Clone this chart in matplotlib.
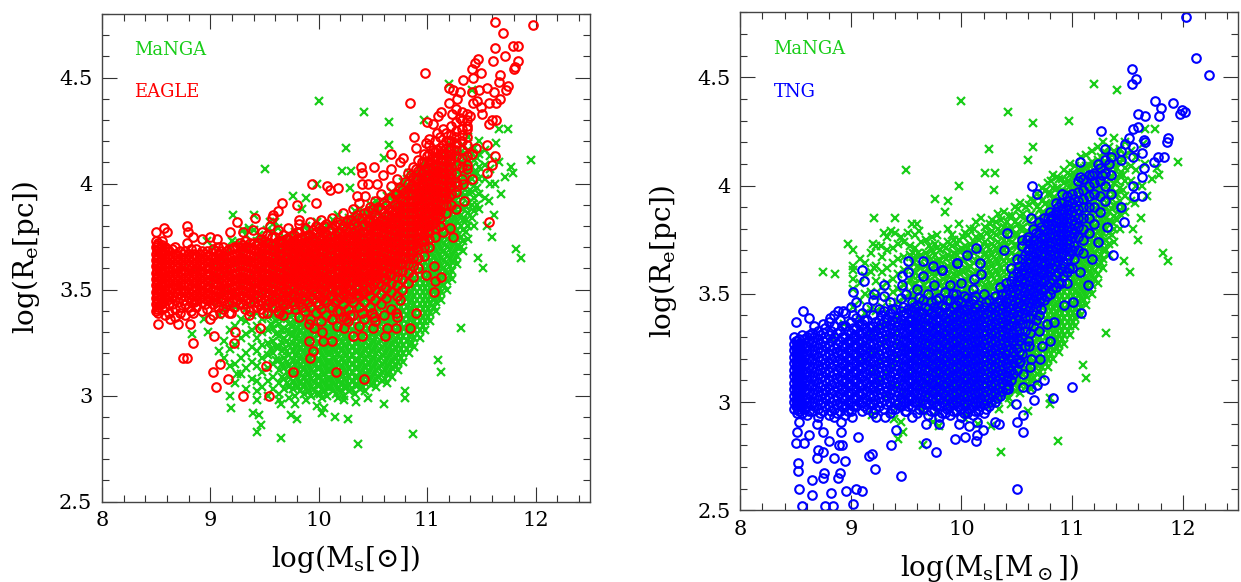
import matplotlib
matplotlib.use('Agg')
import matplotlib.pyplot as plt
from matplotlib.ticker import MultipleLocator

plt.rcParams['font.family'] = ['DejaVu Serif']
plt.rcParams['mathtext.fontset'] = 'dejavuserif'

# MaNGA, isolated points
manga_x = [10.0,10.42,10.65,10.25,10.65,10.21,10.3,10.6,10.29,11.96,11.82,11.87,11.2,11.41,10.97,11.66,11.75,11.64,11.77,11.79,
           9.5,9.76,9.88,9.85,9.21,9.4,9.98,8.75,8.86,8.97,9.02,9.02,9.2,9.27,9.21,9.3,9.36,9.4,9.45,9.55,9.6,9.52,9.62,
           10.36,10.87,9.65,9.43,9.47,9.39,9.45,9.19,9.74,9.8,10.15,10.27,10.03,10.6,10.8,10.8,11.1,11.13,11.31,10.45,9.18,9.25,
           8.83,8.94,8.98,9.43,9.63,9.65,9.78,9.98,10.05,10.23,10.34,
           11.62,11.68,11.66,11.6,11.52,11.47,11.57,11.63,11.72,11.55]
manga_y = [4.39,4.34,4.29,4.17,4.18,4.06,4.06,4.12,3.98,4.11,3.69,3.65,4.47,4.44,4.3,4.26,4.26,4.19,4.08,4.05,
           4.07,3.94,3.93,3.88,3.85,3.85,4.0,3.6,3.59,3.73,3.7,3.63,3.73,3.72,3.62,3.78,3.79,3.78,3.76,3.82,3.82,3.78,3.79,
           2.77,2.82,2.8,2.83,2.86,2.92,2.91,2.94,2.91,2.89,2.9,2.89,2.92,2.96,3.02,2.99,3.17,3.11,3.32,2.99,3.0,3.1,
           3.29,3.36,3.3,2.98,2.98,2.96,2.96,2.95,2.94,2.98,2.97,
           3.85,3.95,4.1,3.75,3.6,3.65,3.92,4.0,4.03,3.8]

# MaNGA, dense cloud estimated column by column
manga_col_x = [9.02,9.08,9.13,9.18,9.23,9.28,9.33,9.38,9.43,9.48,9.53,9.58,9.63,9.68,9.73,9.78,9.83,9.88,9.93,9.98,
               10.03,10.08,10.13,10.18,10.23,10.28,10.33,10.38,10.43,10.48,10.53,10.58,10.63,10.68,10.73,10.78,10.83,10.88,10.93,10.98,
               11.03,11.08,11.13,11.18,11.23,11.28,11.33,11.38,11.43,11.48,11.53,11.58]
manga_col_y = [
    [3.44,3.52,3.57,3.61],
    [3.21,3.38,3.47,3.55,3.66],
    [3.18,3.26,3.41,3.5,3.58,3.64],
    [3.14,3.22,3.31,3.43,3.51,3.6,3.69],
    [3.06,3.15,3.24,3.33,3.42,3.49,3.56,3.63,3.72],
    [3.1,3.18,3.27,3.36,3.44,3.53,3.6,3.67],
    [3.03,3.13,3.2,3.29,3.35,3.41,3.48,3.55,3.62,3.7,3.76],
    [3.08,3.16,3.23,3.31,3.38,3.44,3.51,3.57,3.64,3.71],
    [3.02,3.07,3.14,3.21,3.27,3.33,3.39,3.46,3.52,3.59,3.66,3.73],
    [3.04,3.11,3.18,3.24,3.3,3.36,3.42,3.48,3.54,3.61,3.67,3.74],
    [3.0,3.07,3.13,3.19,3.25,3.31,3.37,3.43,3.5,3.56,3.62,3.68,3.72],
    [3.03,3.09,3.15,3.2,3.26,3.32,3.38,3.44,3.49,3.55,3.6,3.66,3.71,3.77],
    [3.01,3.06,3.12,3.17,3.23,3.28,3.34,3.39,3.45,3.51,3.57,3.62,3.68,3.74],
    [3.03,3.08,3.13,3.18,3.22,3.27,3.32,3.37,3.42,3.47,3.52,3.58,3.63,3.69,3.75],
    [2.99,3.04,3.09,3.14,3.19,3.24,3.29,3.34,3.39,3.44,3.49,3.54,3.59,3.64,3.7,3.76],
    [3.0,3.05,3.1,3.15,3.19,3.23,3.27,3.31,3.35,3.4,3.45,3.5,3.55,3.6,3.65,3.71,3.77],
    [3.02,3.06,3.1,3.14,3.18,3.22,3.26,3.3,3.34,3.38,3.42,3.47,3.52,3.57,3.62,3.67,3.72],
    [2.98,3.03,3.07,3.11,3.15,3.19,3.23,3.27,3.31,3.35,3.39,3.43,3.48,3.53,3.58,3.63,3.68,3.74,3.8],
    [3.0,3.04,3.08,3.12,3.16,3.2,3.24,3.28,3.32,3.36,3.4,3.44,3.49,3.54,3.59,3.64,3.69,3.75],
    [3.01,3.05,3.09,3.13,3.17,3.21,3.25,3.29,3.33,3.37,3.41,3.45,3.5,3.55,3.6,3.65,3.7,3.75,3.82],
    [2.99,3.03,3.07,3.11,3.15,3.19,3.23,3.27,3.31,3.35,3.39,3.43,3.47,3.52,3.57,3.62,3.67,3.72,3.78],
    [3.0,3.04,3.08,3.12,3.16,3.2,3.24,3.28,3.32,3.36,3.4,3.44,3.48,3.53,3.58,3.63,3.68,3.73,3.8],
    [3.02,3.06,3.1,3.14,3.18,3.22,3.26,3.3,3.34,3.38,3.42,3.46,3.5,3.55,3.6,3.65,3.7,3.76,3.83],
    [2.99,3.03,3.07,3.11,3.15,3.19,3.23,3.27,3.31,3.35,3.39,3.43,3.47,3.51,3.56,3.61,3.66,3.71,3.77,3.85],
    [3.0,3.04,3.08,3.12,3.16,3.2,3.24,3.28,3.32,3.36,3.4,3.44,3.48,3.52,3.57,3.62,3.67,3.72,3.78],
    [3.02,3.05,3.09,3.13,3.17,3.21,3.25,3.29,3.33,3.37,3.41,3.45,3.49,3.53,3.58,3.63,3.68,3.73,3.79,3.84],
    [3.01,3.05,3.09,3.13,3.17,3.21,3.25,3.29,3.33,3.37,3.41,3.45,3.49,3.54,3.59,3.64,3.69,3.74,3.8,3.87],
    [3.03,3.07,3.11,3.15,3.19,3.23,3.27,3.31,3.35,3.39,3.43,3.47,3.51,3.55,3.6,3.65,3.7,3.75,3.81,3.88],
    [3.02,3.06,3.1,3.14,3.18,3.22,3.26,3.3,3.34,3.38,3.42,3.46,3.5,3.55,3.6,3.65,3.7,3.75,3.8,3.86],
    [3.05,3.09,3.13,3.17,3.21,3.25,3.29,3.33,3.37,3.41,3.45,3.49,3.53,3.57,3.62,3.67,3.72,3.77,3.83,3.9],
    [3.04,3.08,3.12,3.16,3.2,3.24,3.28,3.32,3.36,3.4,3.44,3.48,3.52,3.56,3.6,3.65,3.7,3.75,3.8,3.86,3.92],
    [3.07,3.11,3.15,3.19,3.23,3.27,3.31,3.35,3.39,3.43,3.47,3.51,3.55,3.59,3.63,3.68,3.73,3.78,3.84,3.9],
    [3.06,3.1,3.14,3.18,3.22,3.26,3.3,3.34,3.38,3.42,3.46,3.5,3.54,3.58,3.62,3.66,3.71,3.76,3.81,3.87,3.94],
    [3.09,3.13,3.17,3.21,3.25,3.29,3.33,3.37,3.41,3.45,3.49,3.53,3.57,3.61,3.65,3.69,3.74,3.79,3.84,3.9,3.96],
    [3.12,3.16,3.2,3.24,3.28,3.32,3.36,3.4,3.44,3.48,3.52,3.56,3.6,3.64,3.68,3.72,3.77,3.82,3.87,3.93,3.99],
    [3.16,3.2,3.24,3.28,3.32,3.36,3.4,3.44,3.48,3.52,3.56,3.6,3.64,3.68,3.72,3.76,3.8,3.85,3.9,3.96,4.01],
    [3.2,3.24,3.28,3.32,3.36,3.4,3.44,3.48,3.52,3.56,3.6,3.64,3.68,3.72,3.76,3.8,3.84,3.89,3.94,3.99,4.05],
    [3.23,3.27,3.31,3.35,3.39,3.43,3.47,3.51,3.55,3.59,3.63,3.67,3.71,3.75,3.79,3.83,3.87,3.92,3.97,4.03],
    [3.27,3.31,3.35,3.39,3.43,3.47,3.51,3.55,3.59,3.63,3.67,3.71,3.75,3.79,3.83,3.87,3.91,3.96,4.01,4.07],
    [3.31,3.35,3.39,3.43,3.47,3.51,3.55,3.59,3.63,3.67,3.71,3.75,3.79,3.83,3.87,3.91,3.95,4.0,4.05,4.1],
    [3.35,3.39,3.43,3.47,3.51,3.55,3.59,3.63,3.67,3.71,3.75,3.79,3.83,3.87,3.91,3.95,3.99,4.04,4.09],
    [3.4,3.44,3.48,3.52,3.56,3.6,3.64,3.68,3.72,3.76,3.8,3.84,3.88,3.92,3.96,4.0,4.04,4.08,4.13],
    [3.45,3.49,3.53,3.57,3.61,3.65,3.69,3.73,3.77,3.81,3.85,3.89,3.93,3.97,4.01,4.05,4.09,4.14],
    [3.5,3.54,3.58,3.62,3.66,3.7,3.74,3.78,3.82,3.86,3.9,3.94,3.98,4.02,4.06,4.11,4.16],
    [3.55,3.59,3.63,3.67,3.71,3.75,3.79,3.83,3.87,3.91,3.95,3.99,4.03,4.07,4.12,4.18],
    [3.62,3.66,3.7,3.74,3.78,3.82,3.86,3.9,3.94,3.98,4.02,4.06,4.1,4.15,4.2],
    [3.68,3.73,3.78,3.83,3.88,3.93,3.98,4.03,4.08,4.13,4.18],
    [3.74,3.8,3.86,3.91,3.96,4.01,4.06,4.11,4.16,4.22],
    [3.8,3.87,3.93,3.99,4.05,4.11,4.17],
    [3.88,3.95,4.02,4.08,4.14,4.2],
    [3.93,4.02,4.09,4.16],
    [4.0,4.07,4.13],
]

# MaNGA, second pass over the dense cloud (points between the first columns)
manga_fill_x = [9.56,9.61,9.66,9.71,9.76,9.81,9.86,9.91,9.96,10.01,10.06,10.11,10.16,10.21,10.26,10.31,10.36,10.41,10.46,10.51,
                10.56,10.61,10.66,10.71,10.76,10.81,10.86,10.91,10.96,11.01,11.06,11.11,11.16,11.21,11.26,11.31,11.36,11.41,11.46]
manga_fill_y = [
    [3.22,3.34,3.41,3.47,3.53,3.58,3.64,3.69],
    [3.17,3.23,3.29,3.35,3.41,3.46,3.52,3.58,3.63,3.69],
    [3.09,3.15,3.21,3.25,3.31,3.37,3.42,3.48,3.54,3.6,3.66],
    [3.06,3.11,3.16,3.21,3.26,3.31,3.36,3.41,3.46,3.51,3.56,3.61,3.67,3.72],
    [3.03,3.07,3.12,3.17,3.21,3.25,3.29,3.33,3.38,3.43,3.48,3.53,3.58,3.63,3.68,3.73],
    [3.04,3.08,3.12,3.16,3.2,3.24,3.28,3.32,3.36,3.41,3.45,3.5,3.55,3.6,3.65,3.7],
    [3.01,3.05,3.09,3.13,3.17,3.21,3.25,3.29,3.33,3.37,3.41,3.46,3.51,3.56,3.61,3.66,3.71],
    [3.02,3.06,3.1,3.14,3.18,3.22,3.26,3.3,3.34,3.38,3.42,3.47,3.52,3.57,3.62,3.67,3.72,3.77],
    [3.03,3.07,3.11,3.15,3.19,3.23,3.27,3.31,3.35,3.39,3.43,3.48,3.53,3.58,3.63,3.68,3.73],
    [3.01,3.05,3.09,3.13,3.17,3.21,3.25,3.29,3.33,3.37,3.41,3.45,3.5,3.55,3.6,3.65,3.7,3.76],
    [3.02,3.06,3.1,3.14,3.18,3.22,3.26,3.3,3.34,3.38,3.42,3.46,3.51,3.56,3.61,3.66,3.71,3.77],
    [3.04,3.08,3.12,3.16,3.2,3.24,3.28,3.32,3.36,3.4,3.44,3.49,3.54,3.59,3.64,3.69,3.74,3.8],
    [3.01,3.05,3.09,3.13,3.17,3.21,3.25,3.29,3.33,3.37,3.41,3.45,3.5,3.55,3.6,3.65,3.7,3.75],
    [3.02,3.06,3.1,3.14,3.18,3.22,3.26,3.3,3.34,3.38,3.42,3.46,3.5,3.54,3.59,3.64,3.69,3.74,3.81],
    [3.04,3.07,3.11,3.15,3.19,3.23,3.27,3.31,3.35,3.39,3.43,3.47,3.51,3.55,3.6,3.65,3.7,3.76,3.82],
    [3.03,3.07,3.11,3.15,3.19,3.23,3.27,3.31,3.35,3.39,3.43,3.47,3.51,3.56,3.61,3.66,3.71,3.77,3.83],
    [3.05,3.09,3.13,3.17,3.21,3.25,3.29,3.33,3.37,3.41,3.45,3.49,3.53,3.57,3.62,3.67,3.72,3.78,3.84],
    [3.04,3.08,3.12,3.16,3.2,3.24,3.28,3.32,3.36,3.4,3.44,3.48,3.52,3.57,3.62,3.67,3.72,3.77,3.83],
    [3.07,3.11,3.15,3.19,3.23,3.27,3.31,3.35,3.39,3.43,3.47,3.51,3.55,3.59,3.64,3.69,3.74,3.8,3.86],
    [3.06,3.1,3.14,3.18,3.22,3.26,3.3,3.34,3.38,3.42,3.46,3.5,3.54,3.58,3.62,3.67,3.72,3.77,3.82,3.89],
    [3.09,3.13,3.17,3.21,3.25,3.29,3.33,3.37,3.41,3.45,3.49,3.53,3.57,3.61,3.65,3.7,3.75,3.81,3.87],
    [3.08,3.12,3.16,3.2,3.24,3.28,3.32,3.36,3.4,3.44,3.48,3.52,3.56,3.6,3.64,3.68,3.73,3.78,3.83,3.91],
    [3.11,3.15,3.19,3.23,3.27,3.31,3.35,3.39,3.43,3.47,3.51,3.55,3.59,3.63,3.67,3.71,3.76,3.81,3.86,3.93],
    [3.14,3.18,3.22,3.26,3.3,3.34,3.38,3.42,3.46,3.5,3.54,3.58,3.62,3.66,3.7,3.74,3.79,3.84,3.89,3.95],
    [3.18,3.22,3.26,3.3,3.34,3.38,3.42,3.46,3.5,3.54,3.58,3.62,3.66,3.7,3.74,3.78,3.82,3.87,3.92,3.98],
    [3.22,3.26,3.3,3.34,3.38,3.42,3.46,3.5,3.54,3.58,3.62,3.66,3.7,3.74,3.78,3.82,3.86,3.91,3.96,4.02],
    [3.25,3.29,3.33,3.37,3.41,3.45,3.49,3.53,3.57,3.61,3.65,3.69,3.73,3.77,3.81,3.85,3.89,3.94,3.99,4.04],
    [3.29,3.33,3.37,3.41,3.45,3.49,3.53,3.57,3.61,3.65,3.69,3.73,3.77,3.81,3.85,3.89,3.93,3.98,4.03],
    [3.33,3.37,3.41,3.45,3.49,3.53,3.57,3.61,3.65,3.69,3.73,3.77,3.81,3.85,3.89,3.93,3.97,4.02,4.06],
    [3.37,3.41,3.45,3.49,3.53,3.57,3.61,3.65,3.69,3.73,3.77,3.81,3.85,3.89,3.93,3.97,4.01,4.06],
    [3.42,3.46,3.5,3.54,3.58,3.62,3.66,3.7,3.74,3.78,3.82,3.86,3.9,3.94,3.98,4.02,4.07],
    [3.47,3.51,3.55,3.59,3.63,3.67,3.71,3.75,3.79,3.83,3.87,3.91,3.95,3.99,4.03,4.08],
    [3.52,3.56,3.6,3.64,3.68,3.72,3.76,3.8,3.84,3.88,3.92,3.96,4.0,4.04,4.09],
    [3.57,3.61,3.65,3.69,3.73,3.77,3.81,3.85,3.89,3.93,3.97,4.01,4.05,4.1],
    [3.64,3.68,3.72,3.76,3.8,3.84,3.88,3.92,3.96,4.0,4.04,4.08,4.13],
    [3.7,3.75,3.8,3.85,3.9,3.95,4.0,4.05,4.1,4.15],
    [3.77,3.83,3.89,3.94,3.99,4.04,4.09,4.14],
    [3.84,3.9,3.96,4.02,4.08,4.14],
    [3.9,3.98,4.05,4.12],
]

# EAGLE, isolated circles
eagle_x = [11.98,11.63,11.7,11.63,11.79,11.84,11.47,11.44,11.41,11.61,11.72,11.84,11.81,11.8,11.5,11.42,11.33,10.98,11.67,11.66,
           11.75,11.73,11.2,11.24,11.3,11.48,11.55,11.62,11.67,11.64,10.84,11.2,11.28,11.41,11.42,11.57,11.46,11.5,11.13,11.1,
           11.27,11.23,11.3,11.4,11.51,11.64,11.6,11.57,11.0,11.05,10.88,10.99,11.02,11.09,11.15,11.37,10.67,10.9,10.78,10.75,
           10.39,10.51,10.67,10.4,10.4,10.59,9.94,10.08,10.1,10.18,10.45,10.54,10.43,10.35,9.97,11.55,11.63,11.6,11.55,11.45,
           11.41,11.37,11.41,11.33,11.28,11.34,11.27,11.57,11.21,11.15,11.24,11.06,10.99,11.13,11.07,
           9.66,9.8,9.62,9.58,9.41,9.25,9.82,8.78,8.79,8.5,8.57,8.6,9.18,9.39,9.48,9.3,9.0,8.92,9.06,8.84,8.78,8.55,9.44,9.57,9.55,
           8.52,8.81,8.7,8.63,8.84,9.0,9.09,9.19,9.36,9.23,9.03,9.22,8.84,8.75,8.78,9.09,9.02,9.16,9.05,9.3,9.54,9.51,9.46,9.76,
           9.92,9.95,9.91,10.16,10.42,10.04,10.12,10.32,10.4,10.61,9.91,9.96,10.03,10.23,10.5,10.63,10.71,10.84,10.9,10.75,11.06,
           10.4,10.49,10.6,10.71,10.72,10.29,10.2,9.78,9.49,9.63,10.12,10.25,10.51]
eagle_y = [4.75,4.76,4.71,4.64,4.65,4.65,4.59,4.57,4.54,4.58,4.6,4.58,4.55,4.54,4.52,4.5,4.49,4.52,4.51,4.48,
           4.46,4.44,4.45,4.44,4.43,4.44,4.45,4.43,4.4,4.38,4.38,4.38,4.4,4.43,4.38,4.38,4.39,4.36,4.34,4.32,
           4.35,4.33,4.31,4.32,4.33,4.3,4.3,4.28,4.29,4.28,4.22,4.19,4.21,4.24,4.26,4.27,4.14,4.17,4.12,4.1,
           4.08,4.08,4.07,4.05,4.0,4.04,4.0,3.99,3.97,3.98,4.0,4.0,3.94,3.94,3.91,4.18,4.13,4.09,4.05,4.17,
           4.14,4.09,4.02,4.0,3.99,3.92,3.88,3.82,3.79,3.77,3.75,3.61,3.57,3.56,3.54,
           3.91,3.9,3.87,3.85,3.84,3.82,3.83,3.8,3.77,3.77,3.79,3.77,3.77,3.78,3.77,3.77,3.75,3.74,3.74,3.75,3.72,3.73,3.72,3.84,3.8,
           3.34,3.34,3.34,3.36,3.39,3.36,3.39,3.39,3.38,3.3,3.28,3.25,3.25,3.18,3.18,3.15,3.11,3.08,3.04,3.0,3.0,3.14,3.32,3.11,
           3.18,3.21,3.26,3.11,3.08,3.26,3.26,3.28,3.28,3.28,3.34,3.32,3.3,3.32,3.32,3.32,3.32,3.32,3.39,3.45,3.49,
           3.39,3.39,3.38,3.39,3.37,3.38,3.4,3.41,3.39,3.39,3.36,3.36,3.37]

# EAGLE, dense part, estimated column by column
eagle_col_x = [8.5,8.52,8.55,8.58,8.62,8.67,8.72,8.77,8.82,8.87,8.92,8.97,9.02,9.07,9.12,9.17,9.22,9.27,9.32,9.37,
               9.42,9.47,9.52,9.57,9.62,9.67,9.72,9.77,9.82,9.87,9.92,9.97,10.02,10.07,10.12,10.17,10.22,10.27,10.32,10.37,
               10.42,10.47,10.52,10.57,10.62,10.67,10.72,10.77,10.82,10.87,10.92,10.97,11.02,11.07,11.12,11.17,11.22,11.27,11.32,11.37]
eagle_col_y = [
    [3.4,3.43,3.46,3.49,3.52,3.55,3.58,3.61,3.64,3.67,3.7,3.73],
    [3.39,3.42,3.45,3.48,3.51,3.54,3.57,3.6,3.63,3.66,3.69,3.72],
    [3.41,3.44,3.47,3.5,3.53,3.56,3.59,3.62,3.65,3.68,3.71],
    [3.38,3.42,3.46,3.5,3.53,3.56,3.59,3.62,3.65,3.68,3.7],
    [3.39,3.43,3.47,3.5,3.53,3.56,3.59,3.62,3.65,3.68],
    [3.37,3.41,3.45,3.49,3.52,3.55,3.58,3.61,3.64,3.67,3.7],
    [3.39,3.42,3.46,3.5,3.53,3.56,3.59,3.62,3.65,3.68],
    [3.38,3.43,3.47,3.5,3.53,3.56,3.59,3.62,3.65,3.68],
    [3.4,3.44,3.48,3.51,3.54,3.57,3.6,3.63,3.66,3.69],
    [3.42,3.45,3.48,3.51,3.54,3.57,3.6,3.63,3.66,3.69],
    [3.4,3.44,3.47,3.5,3.53,3.56,3.59,3.62,3.65,3.68],
    [3.41,3.45,3.48,3.51,3.54,3.57,3.6,3.63,3.66,3.68],
    [3.38,3.43,3.47,3.5,3.53,3.56,3.59,3.62,3.65,3.69],
    [3.42,3.46,3.49,3.52,3.55,3.58,3.61,3.64,3.67,3.7],
    [3.41,3.45,3.48,3.51,3.54,3.57,3.6,3.63,3.66,3.7],
    [3.39,3.44,3.48,3.51,3.54,3.57,3.6,3.63,3.66,3.69],
    [3.42,3.46,3.49,3.52,3.55,3.58,3.61,3.64,3.67,3.7],
    [3.43,3.47,3.5,3.53,3.56,3.59,3.62,3.65,3.68,3.72],
    [3.41,3.45,3.49,3.52,3.55,3.58,3.61,3.64,3.67,3.7,3.73],
    [3.4,3.44,3.48,3.51,3.54,3.57,3.6,3.63,3.66,3.69,3.72],
    [3.42,3.46,3.5,3.53,3.56,3.59,3.62,3.65,3.68,3.71],
    [3.41,3.45,3.49,3.52,3.55,3.58,3.61,3.64,3.67,3.7,3.74],
    [3.39,3.43,3.47,3.51,3.54,3.57,3.6,3.63,3.66,3.69,3.72,3.76],
    [3.42,3.46,3.5,3.53,3.56,3.59,3.62,3.65,3.68,3.71,3.75],
    [3.4,3.44,3.48,3.52,3.55,3.58,3.61,3.64,3.67,3.7,3.73,3.78],
    [3.38,3.43,3.47,3.51,3.54,3.57,3.6,3.63,3.66,3.69,3.72,3.76],
    [3.41,3.45,3.49,3.53,3.56,3.59,3.62,3.65,3.68,3.71,3.74,3.79],
    [3.43,3.47,3.51,3.54,3.57,3.6,3.63,3.66,3.69,3.72,3.76],
    [3.37,3.44,3.48,3.52,3.55,3.58,3.61,3.64,3.67,3.7,3.73,3.77,3.81],
    [3.4,3.45,3.49,3.53,3.56,3.59,3.62,3.65,3.68,3.71,3.75,3.79],
    [3.36,3.42,3.47,3.51,3.54,3.57,3.6,3.63,3.66,3.69,3.72,3.76,3.82],
    [3.39,3.44,3.48,3.52,3.55,3.58,3.61,3.64,3.67,3.7,3.73,3.77,3.8],
    [3.35,3.41,3.46,3.5,3.53,3.56,3.59,3.62,3.65,3.68,3.71,3.74,3.78,3.83],
    [3.38,3.44,3.48,3.52,3.55,3.58,3.61,3.64,3.67,3.7,3.73,3.76,3.81],
    [3.36,3.42,3.47,3.51,3.54,3.57,3.6,3.63,3.66,3.69,3.72,3.75,3.79,3.84],
    [3.33,3.4,3.45,3.5,3.53,3.56,3.59,3.62,3.65,3.68,3.71,3.74,3.77,3.82],
    [3.37,3.43,3.48,3.52,3.55,3.58,3.61,3.64,3.67,3.7,3.73,3.76,3.8,3.86],
    [3.35,3.41,3.46,3.5,3.53,3.56,3.59,3.62,3.65,3.68,3.71,3.74,3.77,3.83],
    [3.38,3.44,3.49,3.53,3.56,3.59,3.62,3.65,3.68,3.71,3.74,3.77,3.81,3.88],
    [3.33,3.42,3.47,3.51,3.54,3.57,3.6,3.63,3.66,3.69,3.72,3.75,3.78,3.84,3.91],
    [3.36,3.44,3.49,3.53,3.56,3.59,3.62,3.65,3.68,3.71,3.74,3.77,3.81,3.86],
    [3.42,3.47,3.51,3.55,3.58,3.61,3.64,3.67,3.7,3.73,3.76,3.79,3.83,3.89],
    [3.35,3.45,3.5,3.54,3.57,3.6,3.63,3.66,3.69,3.72,3.75,3.78,3.81,3.85,3.92],
    [3.43,3.48,3.52,3.56,3.59,3.62,3.65,3.68,3.71,3.74,3.77,3.8,3.83,3.88,3.95],
    [3.46,3.51,3.55,3.58,3.61,3.64,3.67,3.7,3.73,3.76,3.79,3.82,3.85,3.9],
    [3.41,3.49,3.53,3.57,3.6,3.63,3.66,3.69,3.72,3.75,3.78,3.81,3.84,3.87,3.93,3.99],
    [3.47,3.52,3.56,3.59,3.62,3.65,3.68,3.71,3.74,3.77,3.8,3.83,3.86,3.89,3.95,4.02],
    [3.5,3.55,3.59,3.62,3.65,3.68,3.71,3.74,3.77,3.8,3.83,3.86,3.89,3.92,3.97],
    [3.53,3.58,3.62,3.65,3.68,3.71,3.74,3.77,3.8,3.83,3.86,3.89,3.92,3.95,4.0,4.05],
    [3.56,3.61,3.65,3.68,3.71,3.74,3.77,3.8,3.83,3.86,3.89,3.92,3.95,3.98,4.03,4.08],
    [3.6,3.65,3.69,3.72,3.75,3.78,3.81,3.84,3.87,3.9,3.93,3.96,3.99,4.02,4.06,4.11],
    [3.66,3.7,3.73,3.76,3.79,3.82,3.85,3.88,3.91,3.94,3.97,4.0,4.03,4.06,4.1,4.14],
    [3.7,3.74,3.77,3.8,3.83,3.86,3.89,3.92,3.95,3.98,4.01,4.04,4.07,4.1,4.14,4.18],
    [3.75,3.79,3.82,3.85,3.88,3.91,3.94,3.97,4.0,4.03,4.06,4.09,4.12,4.15,4.2],
    [3.8,3.84,3.87,3.9,3.93,3.96,3.99,4.02,4.05,4.08,4.11,4.14,4.17,4.22],
    [3.86,3.9,3.93,3.96,3.99,4.02,4.05,4.08,4.11,4.14,4.17,4.2,4.24],
    [3.9,3.95,3.99,4.02,4.05,4.08,4.11,4.14,4.17,4.2,4.23,4.27],
    [3.96,4.01,4.05,4.09,4.13,4.16,4.19,4.22,4.25,4.29],
    [4.02,4.08,4.12,4.16,4.2,4.23,4.26,4.3,4.34],
    [4.07,4.13,4.18,4.22,4.26,4.3,4.33],
]

# EAGLE, second pass over the dense part
eagle_fill_x = [8.51,8.54,8.6,8.65,8.7,8.75,8.8,8.85,8.9,8.95,9.0,9.05,9.1,9.15,9.2,9.25,9.3,9.35,9.4,9.45,
                9.5,9.55,9.6,9.65,9.7,9.75,9.8,9.85,9.9,9.95,10.0,10.05,10.1,10.15,10.2,10.25,10.3,10.35,10.4,10.45,
                10.5,10.55,10.6,10.65,10.7,10.75,10.8,10.85,10.9,10.95,11.0,11.05,11.1,11.15,11.2]
eagle_fill_y = [
    [3.41,3.44,3.47,3.5,3.53,3.56,3.59,3.62,3.65,3.68,3.71],
    [3.43,3.46,3.49,3.52,3.55,3.58,3.61,3.64,3.67,3.7],
    [3.45,3.48,3.51,3.54,3.57,3.6,3.63,3.66,3.69],
    [3.43,3.47,3.51,3.54,3.57,3.6,3.63,3.66,3.69],
    [3.44,3.48,3.51,3.54,3.57,3.6,3.63,3.66],
    [3.45,3.49,3.52,3.55,3.58,3.61,3.64,3.67],
    [3.42,3.46,3.49,3.52,3.55,3.58,3.61,3.64,3.67],
    [3.44,3.47,3.5,3.53,3.56,3.59,3.62,3.65,3.67],
    [3.46,3.49,3.52,3.55,3.58,3.61,3.64,3.67],
    [3.43,3.46,3.49,3.52,3.55,3.58,3.61,3.64,3.67],
    [3.45,3.48,3.51,3.54,3.57,3.6,3.63,3.66],
    [3.44,3.47,3.5,3.53,3.56,3.59,3.62,3.65,3.68],
    [3.46,3.5,3.53,3.56,3.59,3.62,3.65,3.68],
    [3.43,3.47,3.5,3.53,3.56,3.59,3.62,3.65,3.68],
    [3.44,3.48,3.51,3.54,3.57,3.6,3.63,3.66,3.69],
    [3.45,3.49,3.52,3.55,3.58,3.61,3.64,3.67,3.7],
    [3.43,3.47,3.5,3.53,3.56,3.59,3.62,3.65,3.68,3.71],
    [3.46,3.49,3.52,3.55,3.58,3.61,3.64,3.67,3.7],
    [3.44,3.48,3.51,3.54,3.57,3.6,3.63,3.66,3.69,3.72],
    [3.43,3.47,3.51,3.54,3.57,3.6,3.63,3.66,3.69,3.72],
    [3.45,3.49,3.52,3.55,3.58,3.61,3.64,3.67,3.7,3.73],
    [3.44,3.48,3.51,3.54,3.57,3.6,3.63,3.66,3.69,3.72],
    [3.42,3.46,3.5,3.53,3.56,3.59,3.62,3.65,3.68,3.71,3.75],
    [3.45,3.49,3.52,3.55,3.58,3.61,3.64,3.67,3.7,3.73],
    [3.43,3.47,3.5,3.53,3.56,3.59,3.62,3.65,3.68,3.71,3.74],
    [3.44,3.48,3.52,3.55,3.58,3.61,3.64,3.67,3.7,3.73],
    [3.46,3.5,3.53,3.56,3.59,3.62,3.65,3.68,3.71,3.74,3.77],
    [3.42,3.46,3.5,3.54,3.57,3.6,3.63,3.66,3.69,3.72,3.75],
    [3.44,3.49,3.52,3.55,3.58,3.61,3.64,3.67,3.7,3.73,3.76],
    [3.46,3.5,3.53,3.56,3.59,3.62,3.65,3.68,3.71,3.74,3.78],
    [3.43,3.47,3.51,3.54,3.57,3.6,3.63,3.66,3.69,3.72,3.75,3.79],
    [3.45,3.49,3.53,3.56,3.59,3.62,3.65,3.68,3.71,3.74,3.77,3.8],
    [3.47,3.51,3.54,3.57,3.6,3.63,3.66,3.69,3.72,3.75,3.78],
    [3.44,3.49,3.52,3.55,3.58,3.61,3.64,3.67,3.7,3.73,3.76,3.8],
    [3.46,3.5,3.53,3.56,3.59,3.62,3.65,3.68,3.71,3.74,3.77,3.81],
    [3.48,3.51,3.54,3.57,3.6,3.63,3.66,3.69,3.72,3.75,3.78,3.82],
    [3.46,3.5,3.54,3.57,3.6,3.63,3.66,3.69,3.72,3.75,3.79,3.83],
    [3.48,3.52,3.55,3.58,3.61,3.64,3.67,3.7,3.73,3.76,3.8,3.85],
    [3.49,3.53,3.56,3.59,3.62,3.65,3.68,3.71,3.74,3.77,3.8,3.84],
    [3.5,3.54,3.57,3.6,3.63,3.66,3.69,3.72,3.75,3.78,3.82,3.87],
    [3.52,3.56,3.59,3.62,3.65,3.68,3.71,3.74,3.77,3.8,3.83,3.88],
    [3.53,3.57,3.6,3.63,3.66,3.69,3.72,3.75,3.78,3.81,3.84,3.89],
    [3.55,3.59,3.62,3.65,3.68,3.71,3.74,3.77,3.8,3.83,3.86,3.91],
    [3.57,3.61,3.64,3.67,3.7,3.73,3.76,3.79,3.82,3.85,3.88,3.93],
    [3.6,3.63,3.66,3.69,3.72,3.75,3.78,3.81,3.84,3.87,3.9,3.95],
    [3.62,3.66,3.69,3.72,3.75,3.78,3.81,3.84,3.87,3.9,3.93,3.98],
    [3.65,3.68,3.71,3.74,3.77,3.8,3.83,3.86,3.89,3.92,3.96,4.01],
    [3.67,3.71,3.74,3.77,3.8,3.83,3.86,3.89,3.92,3.95,3.99,4.04],
    [3.7,3.74,3.77,3.8,3.83,3.86,3.89,3.92,3.95,3.98,4.02,4.07],
    [3.73,3.77,3.8,3.83,3.86,3.89,3.92,3.95,3.98,4.01,4.05,4.1],
    [3.77,3.8,3.83,3.86,3.89,3.92,3.95,3.98,4.01,4.04,4.08,4.13],
    [3.81,3.84,3.87,3.9,3.93,3.96,3.99,4.02,4.05,4.08,4.12,4.16],
    [3.85,3.88,3.91,3.94,3.97,4.0,4.03,4.06,4.09,4.12,4.16],
    [3.9,3.93,3.96,3.99,4.02,4.05,4.08,4.11,4.14,4.18],
    [3.94,3.98,4.01,4.04,4.07,4.1,4.13,4.16,4.2],
]

# TNG, isolated circles
tng_x = [12.03,12.12,12.24,11.54,11.58,11.54,11.75,11.91,11.8,11.79,11.6,11.66,11.99,12.02,11.98,11.26,11.55,11.6,11.87,11.86,
         11.65,11.66,11.51,11.48,11.55,11.3,11.44,11.63,11.78,11.83,11.74,11.07,11.23,11.33,11.44,11.55,11.65,11.63,11.55,11.63,
         11.56,10.64,10.68,10.91,11.07,11.18,11.27,10.63,10.78,10.85,11.47,11.37,11.18,10.41,10.13,10.05,9.96,10.17,10.38,10.55,
         10.59,10.18,10.11,9.82,11.14,10.95,11.44,11.32,11.23,11.1,11.07,
         9.52,9.65,9.74,9.82,9.1,9.12,9.3,9.46,9.46,9.52,9.65,9.96,
         8.57,8.62,8.5,9.02,9.21,8.93,8.88,8.81,8.67,
         8.51,8.5,8.58,8.62,8.75,8.8,8.91,9.06,8.89,8.92,8.7,8.75,8.69,8.85,8.95,9.16,9.19,9.22,8.52,8.52,8.76,8.75,8.65,8.9,8.88,
         9.45,8.53,8.65,8.82,8.96,9.05,9.1,9.02,8.56,8.77,8.84,10.5,9.36,9.41,9.68,9.77,9.94,10.03,10.13,10.14,10.19,10.56,10.5,
         10.56,10.34,10.3,10.66,10.83,11.0,10.75,11.08,11.01,10.93,10.8,10.73,10.71,10.63,10.62,10.56,10.63,10.49,10.56,10.84,
         10.77,10.7,10.61,10.53,10.68,10.42,9.49,9.55,9.68,9.8,9.98,10.07,10.14,9.23,9.31,9.01,8.91,8.69,8.53]
tng_y = [4.78,4.59,4.51,4.54,4.49,4.47,4.39,4.38,4.36,4.32,4.33,4.32,4.35,4.34,4.33,4.25,4.26,4.27,4.22,4.2,
         4.21,4.2,4.22,4.19,4.18,4.17,4.16,4.15,4.13,4.13,4.11,4.11,4.1,4.1,4.12,4.13,4.08,4.04,4.0,3.95,
         3.95,4.0,3.96,3.96,4.04,4.05,4.05,3.85,3.85,3.88,3.83,3.68,3.66,3.78,3.71,3.68,3.64,3.64,3.7,3.75,
         3.75,3.59,3.57,3.61,3.54,3.55,3.9,3.81,3.74,3.69,3.6,
         3.65,3.65,3.63,3.61,3.61,3.56,3.54,3.54,3.58,3.6,3.58,3.64,
         3.42,3.39,3.37,3.51,3.5,3.42,3.42,3.39,3.35,
         2.86,2.81,2.81,2.85,2.86,2.82,2.86,2.84,2.8,2.8,2.78,2.77,2.74,2.74,2.73,2.75,2.76,2.69,2.72,2.68,2.67,2.65,2.64,2.67,2.65,
         2.66,2.6,2.57,2.58,2.59,2.6,2.59,2.53,2.52,2.52,2.52,2.6,2.8,2.87,2.81,2.77,2.83,2.84,2.82,2.85,2.87,2.86,2.91,
         2.94,2.9,2.91,3.01,3.02,3.07,3.1,3.41,3.46,3.45,3.28,3.26,3.2,3.2,3.16,3.13,3.06,2.99,3.07,3.37,
         3.36,3.33,3.26,3.19,3.08,3.06,2.96,2.93,2.9,2.9,2.9,2.89,2.91,2.93,2.93,2.93,2.91,2.9,2.91]

# TNG, dense part, estimated column by column
tng_col_x = [8.49,8.51,8.53,8.56,8.6,8.65,8.7,8.75,8.8,8.85,8.9,8.95,9.0,9.05,9.1,9.15,9.2,9.25,9.3,9.35,
             9.4,9.45,9.5,9.55,9.6,9.65,9.7,9.75,9.8,9.85,9.9,9.95,10.0,10.05,10.1,10.15,10.2,10.25,10.3,10.35,
             10.4,10.45,10.5,10.55,10.6,10.65,10.7,10.75,10.8,10.85,10.9,10.95,11.0,11.05,11.1,11.15,11.2,11.25,11.3,11.35]
tng_col_y = [
    [2.97,3.0,3.03,3.06,3.09,3.12,3.15,3.18,3.21,3.24,3.27,3.3],
    [2.95,2.98,3.01,3.04,3.07,3.1,3.13,3.16,3.19,3.22,3.25,3.28],
    [2.96,2.99,3.02,3.05,3.08,3.11,3.14,3.17,3.2,3.23,3.26,3.29],
    [2.95,2.99,3.03,3.07,3.11,3.15,3.19,3.23,3.27,3.31],
    [2.94,2.98,3.02,3.06,3.1,3.14,3.18,3.22,3.26,3.3],
    [2.96,3.0,3.04,3.08,3.12,3.16,3.2,3.24,3.28,3.32],
    [2.93,2.97,3.01,3.05,3.09,3.13,3.17,3.21,3.25,3.29,3.33],
    [2.96,3.0,3.04,3.08,3.12,3.16,3.2,3.24,3.28,3.32,3.36],
    [2.94,2.98,3.02,3.06,3.1,3.14,3.18,3.22,3.26,3.31,3.37],
    [2.93,2.97,3.01,3.05,3.09,3.13,3.17,3.21,3.25,3.3,3.35,3.4],
    [2.96,3.0,3.04,3.08,3.12,3.16,3.2,3.24,3.28,3.33,3.38],
    [2.94,2.98,3.02,3.06,3.1,3.14,3.18,3.22,3.26,3.3,3.35,3.41],
    [2.96,3.0,3.04,3.08,3.12,3.16,3.2,3.24,3.28,3.32,3.37,3.44],
    [2.98,3.02,3.06,3.1,3.14,3.18,3.22,3.26,3.3,3.34,3.39,3.46],
    [2.96,3.0,3.04,3.08,3.12,3.16,3.2,3.24,3.28,3.32,3.36,3.41],
    [2.97,3.01,3.05,3.09,3.13,3.17,3.21,3.25,3.29,3.33,3.38,3.44],
    [2.95,2.99,3.03,3.07,3.11,3.15,3.19,3.23,3.27,3.31,3.35,3.4,3.47],
    [2.98,3.02,3.06,3.1,3.14,3.18,3.22,3.26,3.3,3.34,3.38,3.43],
    [2.97,3.01,3.05,3.09,3.13,3.17,3.21,3.25,3.29,3.33,3.37,3.42,3.49],
    [2.95,3.0,3.04,3.08,3.12,3.16,3.2,3.24,3.28,3.32,3.36,3.41,3.46],
    [2.97,3.01,3.05,3.09,3.13,3.17,3.21,3.25,3.29,3.33,3.37,3.43],
    [2.98,3.02,3.06,3.1,3.14,3.18,3.22,3.26,3.3,3.34,3.38,3.42,3.48],
    [2.96,3.0,3.04,3.08,3.12,3.16,3.2,3.24,3.28,3.32,3.36,3.41,3.5],
    [2.98,3.02,3.06,3.1,3.14,3.18,3.22,3.26,3.3,3.34,3.38,3.42,3.46],
    [2.95,3.0,3.04,3.08,3.12,3.16,3.2,3.24,3.28,3.32,3.36,3.4,3.45,3.52],
    [2.97,3.01,3.05,3.09,3.13,3.17,3.21,3.25,3.29,3.33,3.37,3.41,3.47],
    [2.94,2.99,3.03,3.07,3.11,3.15,3.19,3.23,3.27,3.31,3.35,3.39,3.43,3.5],
    [2.96,3.0,3.04,3.08,3.12,3.16,3.2,3.24,3.28,3.32,3.36,3.4,3.44,3.54],
    [2.93,2.98,3.02,3.06,3.1,3.14,3.18,3.22,3.26,3.3,3.34,3.38,3.42,3.48],
    [2.95,2.99,3.03,3.07,3.11,3.15,3.19,3.23,3.27,3.31,3.35,3.39,3.44,3.51],
    [2.94,2.98,3.02,3.06,3.1,3.14,3.18,3.22,3.26,3.3,3.34,3.38,3.42,3.47,3.54],
    [2.96,3.0,3.04,3.08,3.12,3.16,3.2,3.24,3.28,3.32,3.36,3.4,3.45,3.5],
    [2.93,2.97,3.01,3.05,3.09,3.13,3.17,3.21,3.25,3.29,3.33,3.37,3.41,3.46,3.55],
    [2.95,2.99,3.03,3.07,3.11,3.15,3.19,3.23,3.27,3.31,3.35,3.39,3.43,3.48],
    [2.94,2.98,3.02,3.06,3.1,3.14,3.18,3.22,3.26,3.3,3.34,3.38,3.42,3.47,3.52],
    [2.96,3.0,3.04,3.08,3.12,3.16,3.2,3.24,3.28,3.32,3.36,3.4,3.45],
    [2.95,2.99,3.03,3.07,3.11,3.15,3.19,3.23,3.27,3.31,3.35,3.39,3.44,3.5],
    [2.98,3.02,3.06,3.1,3.14,3.18,3.22,3.26,3.3,3.34,3.38,3.42,3.47],
    [3.0,3.04,3.08,3.12,3.16,3.2,3.24,3.28,3.32,3.36,3.4,3.44,3.49],
    [3.03,3.07,3.11,3.15,3.19,3.23,3.27,3.31,3.35,3.39,3.43,3.47,3.53],
    [3.06,3.1,3.14,3.18,3.22,3.26,3.3,3.34,3.38,3.42,3.46,3.5,3.55],
    [3.1,3.15,3.2,3.25,3.3,3.35,3.39,3.43,3.47,3.51,3.56,3.62],
    [3.15,3.2,3.25,3.3,3.35,3.4,3.44,3.48,3.52,3.56,3.6,3.66],
    [3.22,3.3,3.36,3.41,3.45,3.49,3.53,3.57,3.61,3.66,3.72],
    [3.28,3.36,3.42,3.46,3.5,3.54,3.58,3.62,3.66,3.7,3.76],
    [3.35,3.42,3.47,3.51,3.55,3.59,3.63,3.67,3.71,3.75,3.8],
    [3.4,3.46,3.5,3.54,3.58,3.62,3.66,3.7,3.74,3.78,3.83],
    [3.47,3.52,3.56,3.6,3.64,3.68,3.72,3.76,3.8,3.85],
    [3.5,3.55,3.6,3.64,3.68,3.72,3.76,3.8,3.84,3.88],
    [3.53,3.58,3.63,3.67,3.71,3.75,3.79,3.83,3.87,3.92],
    [3.55,3.62,3.67,3.71,3.75,3.79,3.83,3.87,3.92],
    [3.6,3.66,3.71,3.75,3.79,3.83,3.87,3.91,3.95],
    [3.62,3.7,3.76,3.8,3.84,3.88,3.92,3.96],
    [3.7,3.76,3.81,3.85,3.89,3.93,3.97,4.02],
    [3.75,3.8,3.85,3.9,3.94,3.98,4.03],
    [3.78,3.85,3.9,3.95,4.0,4.05],
    [3.82,3.9,3.96,4.01,4.06],
    [3.88,3.95,4.02,4.08],
    [3.93,4.0,4.06,4.12],
    [3.96,4.05,4.13],
]

# TNG, second pass over the dense part
tng_fill_x = [8.5,8.52,8.54,8.58,8.62,8.67,8.72,8.77,8.82,8.87,8.92,8.97,9.02,9.07,9.12,9.17,9.22,9.27,9.32,9.37,
              9.42,9.47,9.52,9.57,9.62,9.67,9.72,9.77,9.82,9.87,9.92,9.97,10.02,10.07,10.12,10.17,10.22,10.27,10.32,10.37,
              10.42,10.47,10.52,10.57,10.62,10.67,10.72,10.77,10.82,10.87,10.92,10.97,11.02]
tng_fill_y = [
    [2.98,3.01,3.04,3.07,3.1,3.13,3.16,3.19,3.22,3.25,3.28],
    [2.97,3.0,3.03,3.06,3.09,3.12,3.15,3.18,3.21,3.24,3.27],
    [2.98,3.02,3.06,3.09,3.12,3.15,3.18,3.21,3.24,3.27],
    [2.97,3.01,3.05,3.09,3.13,3.17,3.21,3.25,3.29],
    [2.96,3.0,3.04,3.08,3.12,3.16,3.2,3.24,3.28,3.31],
    [2.98,3.02,3.06,3.1,3.14,3.18,3.22,3.26,3.3],
    [2.95,2.99,3.03,3.07,3.11,3.15,3.19,3.23,3.27,3.31],
    [2.98,3.02,3.06,3.1,3.14,3.18,3.22,3.26,3.3,3.34],
    [2.96,3.0,3.04,3.08,3.12,3.16,3.2,3.24,3.28,3.33],
    [2.95,2.99,3.03,3.07,3.11,3.15,3.19,3.23,3.27,3.32],
    [2.98,3.02,3.06,3.1,3.14,3.18,3.22,3.26,3.3,3.35],
    [2.96,3.0,3.04,3.08,3.12,3.16,3.2,3.24,3.28,3.33],
    [2.98,3.02,3.06,3.1,3.14,3.18,3.22,3.26,3.3,3.34,3.4],
    [3.0,3.04,3.08,3.12,3.16,3.2,3.24,3.28,3.32,3.36],
    [2.98,3.02,3.06,3.1,3.14,3.18,3.22,3.26,3.3,3.34,3.38],
    [2.99,3.03,3.07,3.11,3.15,3.19,3.23,3.27,3.31,3.35],
    [2.97,3.01,3.05,3.09,3.13,3.17,3.21,3.25,3.29,3.33,3.37],
    [3.0,3.04,3.08,3.12,3.16,3.2,3.24,3.28,3.32,3.36,3.4],
    [2.99,3.03,3.07,3.11,3.15,3.19,3.23,3.27,3.31,3.35,3.39],
    [2.97,3.02,3.06,3.1,3.14,3.18,3.22,3.26,3.3,3.34,3.38,3.43],
    [2.99,3.03,3.07,3.11,3.15,3.19,3.23,3.27,3.31,3.35,3.39],
    [3.0,3.04,3.08,3.12,3.16,3.2,3.24,3.28,3.32,3.36,3.4,3.44],
    [2.98,3.02,3.06,3.1,3.14,3.18,3.22,3.26,3.3,3.34,3.38,3.43],
    [3.0,3.04,3.08,3.12,3.16,3.2,3.24,3.28,3.32,3.36,3.4,3.44],
    [2.97,3.02,3.06,3.1,3.14,3.18,3.22,3.26,3.3,3.34,3.38,3.42,3.48],
    [2.99,3.03,3.07,3.11,3.15,3.19,3.23,3.27,3.31,3.35,3.39,3.44],
    [2.96,3.01,3.05,3.09,3.13,3.17,3.21,3.25,3.29,3.33,3.37,3.41,3.46],
    [2.98,3.02,3.06,3.1,3.14,3.18,3.22,3.26,3.3,3.34,3.38,3.42,3.47],
    [2.95,3.0,3.04,3.08,3.12,3.16,3.2,3.24,3.28,3.32,3.36,3.4,3.45],
    [2.97,3.01,3.05,3.09,3.13,3.17,3.21,3.25,3.29,3.33,3.37,3.41,3.47],
    [2.96,3.0,3.04,3.08,3.12,3.16,3.2,3.24,3.28,3.32,3.36,3.4,3.44,3.5],
    [2.98,3.02,3.06,3.1,3.14,3.18,3.22,3.26,3.3,3.34,3.38,3.42,3.47],
    [2.95,2.99,3.03,3.07,3.11,3.15,3.19,3.23,3.27,3.31,3.35,3.39,3.43,3.49],
    [2.97,3.01,3.05,3.09,3.13,3.17,3.21,3.25,3.29,3.33,3.37,3.41,3.45],
    [2.96,3.0,3.04,3.08,3.12,3.16,3.2,3.24,3.28,3.32,3.36,3.4,3.44,3.49],
    [2.98,3.02,3.06,3.1,3.14,3.18,3.22,3.26,3.3,3.34,3.38,3.42],
    [2.97,3.01,3.05,3.09,3.13,3.17,3.21,3.25,3.29,3.33,3.37,3.41,3.46],
    [3.0,3.04,3.08,3.12,3.16,3.2,3.24,3.28,3.32,3.36,3.4,3.44],
    [3.02,3.06,3.1,3.14,3.18,3.22,3.26,3.3,3.34,3.38,3.42,3.46],
    [3.05,3.09,3.13,3.17,3.21,3.25,3.29,3.33,3.37,3.41,3.45,3.5],
    [3.08,3.12,3.16,3.2,3.24,3.28,3.32,3.36,3.4,3.44,3.48,3.52],
    [3.13,3.18,3.23,3.28,3.32,3.37,3.41,3.45,3.49,3.53,3.58],
    [3.18,3.23,3.28,3.33,3.38,3.42,3.46,3.5,3.54,3.58,3.63],
    [3.26,3.33,3.39,3.43,3.47,3.51,3.55,3.59,3.63,3.68],
    [3.32,3.39,3.44,3.48,3.52,3.56,3.6,3.64,3.68,3.73],
    [3.38,3.44,3.49,3.53,3.57,3.61,3.65,3.69,3.73,3.78],
    [3.43,3.48,3.52,3.56,3.6,3.64,3.68,3.72,3.76,3.81],
    [3.49,3.54,3.58,3.62,3.66,3.7,3.74,3.78,3.82],
    [3.52,3.57,3.62,3.66,3.7,3.74,3.78,3.82,3.86],
    [3.55,3.6,3.65,3.69,3.73,3.77,3.81,3.85,3.9],
    [3.58,3.64,3.69,3.73,3.77,3.81,3.85,3.89],
    [3.62,3.68,3.73,3.77,3.81,3.85,3.89,3.93],
    [3.66,3.72,3.78,3.82,3.86,3.9,3.94],
]

x_ticks = [8, 9, 10, 11, 12]
y_ticks = [2.5, 3, 3.5, 4, 4.5]
y_labels = ['2.5', '3', '3.5', '4', '4.5']

green = '#19cd19'


def columns(col_x, col_y):
    xs = []
    ys = []
    for i in range(len(col_x)):
        for v in col_y[i]:
            xs.append(col_x[i])
            ys.append(v)
    return xs, ys


def panel(rect, px, py, pcol_x, pcol_y, pfill_x, pfill_y, color, name, xlabel, xpad, ypad):
    ax = fig.add_axes(rect)
    gx, gy = columns(manga_col_x, manga_col_y)
    hx, hy = columns(manga_fill_x, manga_fill_y)
    ax.plot(manga_x + gx + hx, manga_y + gy + hy, 'x', color=green, ms=5.5, mew=1.6)
    cx, cy = columns(pcol_x, pcol_y)
    fx, fy = columns(pfill_x, pfill_y)
    ax.plot(px + cx + fx, py + cy + fy, 'o', mfc='none', mec=color, ms=6.2, mew=1.5)
    ax.set_xlim(8, 12.5)
    ax.set_ylim(2.5, 4.8)
    ax.set_xticks(x_ticks)
    ax.set_yticks(y_ticks, y_labels)
    ax.xaxis.set_minor_locator(MultipleLocator(0.2))
    ax.yaxis.set_minor_locator(MultipleLocator(0.1))
    ax.tick_params(which='both', direction='in', top=True, right=True, width=0.8, color='#333333')
    ax.tick_params(which='major', length=10.5, labelsize=15, pad=7)
    ax.tick_params(which='minor', length=5)
    for s in ax.spines.values():
        s.set_linewidth(1.0)
        s.set_color('#444444')
    ax.set_xlabel(xlabel, fontsize=20, labelpad=xpad)
    ax.set_ylabel(r'$\mathrm{log(R_e[pc])}$', fontsize=20, labelpad=ypad)
    ax.text(8.3, 4.63, 'MaNGA', color=green, fontsize=13, va='center')
    ax.text(8.3, 4.43, name, color=color, fontsize=13, va='center')
    return ax


fig = plt.figure(figsize=(12.41, 5.82), dpi=100)
panel([102/1241, 1-501.7/582, 487.7/1241, 487.7/582], eagle_x, eagle_y, eagle_col_x, eagle_col_y,
      eagle_fill_x, eagle_fill_y, '#ff0000', 'EAGLE', r'$\mathrm{log(M_s[\odot])}$', 9, 12)
panel([740.3/1241, 1-510.3/582, 497.7/1241, 498/582], tng_x, tng_y, tng_col_x, tng_col_y,
      tng_fill_x, tng_fill_y, '#0000ff', 'TNG', r'$\mathrm{log(M_s[M_\odot])}$', 9, 13)
fig.savefig('out.png', dpi=100)
